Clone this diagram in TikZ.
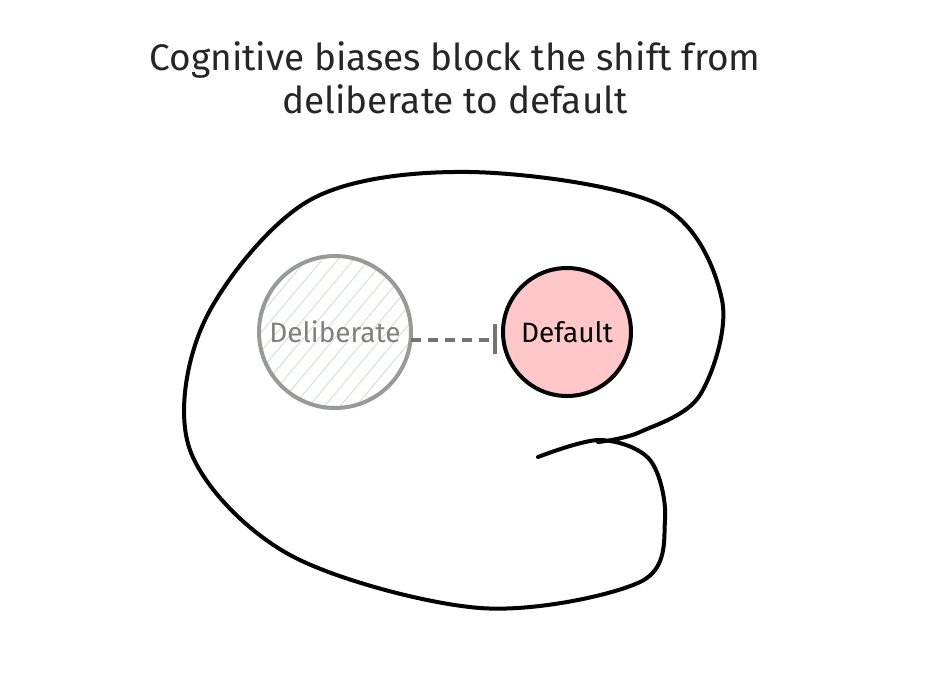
\documentclass[tikz,border=0pt]{standalone}
\usepackage{fontspec}
\setmainfont{Fira Sans}
\usetikzlibrary{patterns.meta}
\begin{document}
\begin{tikzpicture}[x=1pt,y=-1pt,
  lbl/.style={font=\fontsize{28}{30}\selectfont}]
\useasboundingbox (0,0) rectangle (952,681);
\node[font=\fontsize{37}{43}\selectfont,align=center,text=black!85] (title) at (455,78) {Cognitive biases block the shift from\\deliberate to default};
\draw[line width=4pt,line cap=round,line join=round] plot[smooth,tension=0.55] coordinates {(538,457) (600,440) (650,460) (665,520) (640,582) (480,608) (290,555) (190,450) (205,320) (310,200) (470,172) (660,205) (722,300) (700,395) (640,432) (598,442)};
\node[circle,draw=black!40,line width=4pt,minimum size=152pt,pattern={Lines[angle=50,distance=12pt,line width=0.8pt]},pattern color=green!60!black!25,lbl,text=black!50,inner sep=0pt] (delib) at (335,332) {Deliberate};
\node[circle,draw=black,line width=4pt,fill=red!22,minimum size=128pt,lbl,inner sep=0pt] (def) at (567,332) {Default};
\draw[black!55,line width=3.5pt,dash pattern=on 10pt off 7pt] ([yshift=-8pt]delib.east) -- ([xshift=-6pt,yshift=-8pt]def.west);
\draw[black!55,line width=3.5pt] ([xshift=-6pt,yshift=8pt]def.west) -- ([xshift=-6pt,yshift=-22pt]def.west);
\end{tikzpicture}
\end{document}
